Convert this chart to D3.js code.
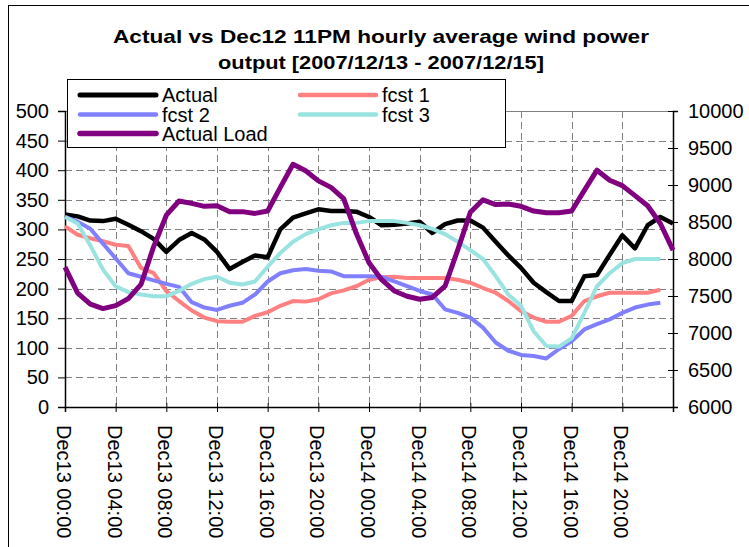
<!DOCTYPE html>
<html>
<head>
<meta charset="utf-8">
<script src="https://cdn.jsdelivr.net/npm/d3@7"></script>
<style>
	body { margin: 0; background: #fff; }
	text { font-family: Arial, 'Liberation Sans', sans-serif; }
</style>
</head>
<body>
<div id="chart"></div>
<script>
// hourly values, Dec13 00:00 .. Dec15 00:00
const actual = [ 325, 322, 315, 314, 318, 308, 297, 284, 262, 282, 294, 283, 262, 233, 245, 256, 253, 300, 320, 327, 334, 331, 331, 330, 321,
	307, 308, 310, 313, 294, 309, 315, 315, 303, 279, 256, 235, 210, 194, 179, 179, 221, 223, 257, 290, 268, 307, 321, 310 ];
const fcst1 = [ 305, 291, 285, 280, 274, 272, 235, 226, 196, 179, 163, 151, 145, 144, 144, 154, 160, 171, 179, 178, 182, 192, 197, 204, 215,
	219, 220, 218, 218, 218, 218, 215, 210, 201, 193, 179, 162, 151, 144, 144, 154, 179, 187, 193, 193, 193, 193, 198 ];
const fcst2 = [ 321, 313, 301, 276, 251, 226, 220, 214, 208, 203, 177, 168, 164, 171, 176, 190, 212, 226, 231, 233, 230, 229, 221, 221, 221,
	220, 212, 204, 196, 190, 165, 159, 151, 134, 109, 95, 88, 86, 82, 98, 111, 131, 140, 148, 159, 168, 173, 176 ];
const fcst3 = [ 321, 310, 273, 232, 204, 194, 190, 187, 187, 196, 208, 216, 220, 210, 207, 212, 237, 260, 279, 292, 300, 307, 311, 311, 314,
	314, 314, 311, 307, 301, 292, 279, 265, 250, 221, 190, 171, 128, 103, 102, 116, 159, 204, 226, 243, 250, 250, 250 ];
const actualLoad = [ 7890, 7540, 7390, 7330, 7370, 7464, 7656, 8168, 8592, 8784, 8752, 8712, 8720, 8640, 8640, 8616, 8648, 8968, 9280, 9192, 9056, 8968, 8816, 8344, 7950,
	7720, 7568, 7496, 7456, 7480, 7632, 8120, 8632, 8800, 8736, 8744, 8712, 8648, 8624, 8624, 8648, 8928, 9200, 9064, 8992, 8856, 8720, 8480, 8120 ];

const tickLabels = [ 'Dec13 00:00', 'Dec13 04:00', 'Dec13 08:00', 'Dec13 12:00', 'Dec13 16:00', 'Dec13 20:00',
	'Dec14 00:00', 'Dec14 04:00', 'Dec14 08:00', 'Dec14 12:00', 'Dec14 16:00', 'Dec14 20:00' ];
const leftTicks = [ 0, 50, 100, 150, 200, 250, 300, 350, 400, 450, 500 ];
const rightTicks = [ 6000, 6500, 7000, 7500, 8000, 8500, 9000, 9500, 10000 ];

const series = [
	{ name: 'Actual', values: actual, color: '#000000', width: 4.5, axis: 'left' },
	{ name: 'fcst 1', values: fcst1, color: '#FF8080', width: 4, axis: 'left' },
	{ name: 'fcst 2', values: fcst2, color: '#8080FF', width: 4, axis: 'left' },
	{ name: 'fcst 3', values: fcst3, color: '#99E3E0', width: 4, axis: 'left' },
	{ name: 'Actual Load', values: actualLoad, color: '#800080', width: 5, axis: 'right' }
];

const width = 749, height = 547;
const plot = { left: 65, right: 673, top: 111, bottom: 407 };

const svg = d3.select('#chart').append('svg')
	.attr('width', width)
	.attr('height', height);

svg.append('rect').attr('width', width).attr('height', height).attr('fill', '#fff');
// chart border
svg.append('rect')
	.attr('x', 8.5).attr('y', 5.5)
	.attr('width', 780).attr('height', 600)
	.attr('fill', 'none').attr('stroke', '#000');

const x = d3.scaleLinear().domain([ 0, 48 ]).range([ plot.left, plot.right ]);
const y = d3.scaleLinear().domain([ 0, 500 ]).range([ plot.bottom, plot.top ]);
const y2 = d3.scaleLinear().domain([ 6000, 10000 ]).range([ plot.bottom, plot.top ]);

// title (Excel stretches it a bit wide)
const title = svg.append('g').attr('font-weight', 'bold').attr('font-size', 19).attr('text-anchor', 'middle');
title.append('text').attr('x', 381).attr('y', 43)
	.attr('textLength', 536).attr('lengthAdjust', 'spacingAndGlyphs')
	.text('Actual vs Dec12 11PM hourly average wind power');
title.append('text').attr('x', 381).attr('y', 69)
	.attr('textLength', 326).attr('lengthAdjust', 'spacingAndGlyphs')
	.text('output [2007/12/13 - 2007/12/15]');

// gridlines
const grid = svg.append('g').attr('stroke', '#808080').attr('stroke-dasharray', '7,4').attr('stroke-width', 1);
grid.selectAll('.hg').data(leftTicks.slice(1, -1)).enter().append('line')
	.attr('x1', plot.left).attr('x2', plot.right)
	.attr('y1', d => Math.round(y(d)) + 0.5).attr('y2', d => Math.round(y(d)) + 0.5);
grid.selectAll('.vg').data(d3.range(4, 48, 4)).enter().append('line')
	.attr('x1', d => Math.round(x(d)) + 0.5).attr('x2', d => Math.round(x(d)) + 0.5)
	.attr('y1', plot.top).attr('y2', plot.bottom);
svg.append('line')
	.attr('x1', plot.left).attr('x2', plot.right)
	.attr('y1', plot.top + 0.5).attr('y2', plot.top + 0.5)
	.attr('stroke', '#808080');

// axes
const axisLeft = svg.append('g')
	.attr('transform', `translate(${plot.left},0)`)
	.call(d3.axisLeft(y).tickValues(leftTicks).tickSize(7).tickPadding(9));
const axisRight = svg.append('g')
	.attr('transform', `translate(${plot.right},0)`)
	.call(d3.axisRight(y2).tickValues(rightTicks).tickSize(5).tickPadding(10).tickFormat(d3.format('d')));
axisRight.selectAll('.tick line').attr('x1', -5);
const axisBottom = svg.append('g')
	.attr('transform', `translate(0,${plot.bottom})`)
	.call(d3.axisBottom(x).tickValues(d3.range(0, 49, 4)).tickSize(5).tickFormat(''));
axisBottom.selectAll('.tick line').attr('y1', -4);

[ axisLeft, axisRight, axisBottom ].forEach(function(a) {
	a.select('.domain').attr('stroke', '#000').attr('stroke-width', 1.5);
	a.selectAll('.tick line').attr('stroke', '#000');
	a.selectAll('text').attr('font-size', 20).attr('fill', '#000').style('font-family', 'Arial, Liberation Sans, sans-serif');
});

// category labels, rotated
svg.append('g').selectAll('text').data(tickLabels).enter().append('text')
	.attr('transform', (d, i) => `translate(${x(i * 4) - 1},425) rotate(90)`)
	.attr('dy', '0.35em')
	.attr('font-size', 20)
	.text(d => d);

// lines
const line = d3.line().x((d, i) => x(i));
series.forEach(function(s) {
	const scale = s.axis == 'left' ? y : y2;
	svg.append('path')
		.datum(s.values)
		.attr('fill', 'none')
		.attr('stroke', s.color)
		.attr('stroke-width', s.width)
		.attr('stroke-linejoin', 'round')
		.attr('d', line.y(d => scale(d)));
});

// legend
const legend = svg.append('g');
legend.append('rect')
	.attr('x', 67.5).attr('y', 79.5)
	.attr('width', 438).attr('height', 68)
	.attr('fill', '#fff').attr('stroke', '#000');
const legendPos = [ [ 80, 95 ], [ 300, 95 ], [ 80, 114.5 ], [ 300, 114.5 ], [ 80, 133.5 ] ];
series.forEach(function(s, i) {
	const p = legendPos[i];
	legend.append('line')
		.attr('x1', p[0]).attr('x2', p[0] + 76)
		.attr('y1', p[1]).attr('y2', p[1])
		.attr('stroke', s.color)
		.attr('stroke-width', s.width + 0.5)
		.attr('stroke-linecap', 'round');
	legend.append('text')
		.attr('x', p[0] + 82).attr('y', p[1])
		.attr('dy', '0.36em')
		.attr('font-size', 20)
		.text(s.name);
});
</script>
</body>
</html>
